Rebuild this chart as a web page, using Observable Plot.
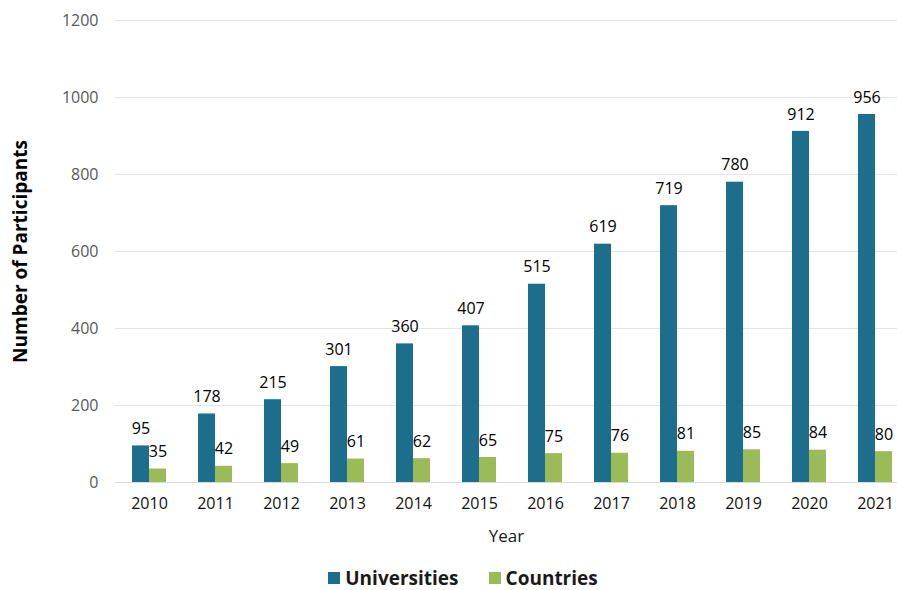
<!DOCTYPE html>
<html>
<head>
<meta charset="utf-8">
<script src="https://cdn.jsdelivr.net/npm/d3@7"></script>
<script src="https://cdn.jsdelivr.net/npm/@observablehq/plot@0.6"></script>
<style>
  html, body { margin: 0; padding: 0; background: #fff; overflow: hidden; }
  body { width: 897px; height: 590px; font-family: "Open Sans", "Noto Sans", sans-serif; }
  #legend { display: flex; justify-content: center; align-items: center; gap: 30px; height: 24px; line-height: 24px;
            font-weight: bold; font-size: 19px; color: #1a1a1a; margin-left: 29px; margin-top: 8px; }
  #legend span.sw { display: inline-block; width: 12px; height: 12px; margin-right: 5px; }
  #legend .item { display: flex; align-items: center; }
</style>
</head>
<body>
<div id="chart"></div>
<div id="legend"></div>
<script>
const years = ["2010","2011","2012","2013","2014","2015","2016","2017","2018","2019","2020","2021"];
const universities = [95,178,215,301,360,407,515,619,719,780,912,956];
const countries = [35,42,49,61,62,65,75,76,81,85,84,80];
const yTicks = [0,200,400,600,800,1000,1200];
const seriesNames = ["Universities","Countries"];
const seriesColors = ["#1c6e8c","#9bbb59"];

const uniData = years.map((y, i) => ({year: y, value: universities[i]}));
const ctyData = years.map((y, i) => ({year: y, value: countries[i]}));

const half = 17;
const chart = Plot.plot({
  width: 897,
  height: 558,
  marginTop: 20,
  marginBottom: 76,
  marginLeft: 115,
  marginRight: 0,
  style: {fontFamily: "'Open Sans', 'Noto Sans', sans-serif", fontSize: "16px", background: "white"},
  x: {domain: years, range: [115, 908], paddingInner: 0.485, paddingOuter: 0.2425, label: null},
  y: {domain: [0, 1200], range: [482, 20], label: null},
  marks: [
    Plot.gridY(yTicks, {stroke: "#e3e3e3", strokeOpacity: 1}),
    Plot.ruleY([0], {stroke: "#d9d9d9"}),
    Plot.barY(uniData, {x: "year", y: "value", fill: seriesColors[0], insetRight: half}),
    Plot.barY(ctyData, {x: "year", y: "value", fill: seriesColors[1], insetLeft: half}),
    Plot.text(uniData, {x: "year", y: "value", text: d => String(d.value), dx: -8.5, dy: -17, fill: "#000", fontSize: 16}),
    Plot.text(ctyData, {x: "year", y: "value", text: d => String(d.value), dx: 8.5, dy: -17, fill: "#000", fontSize: 16}),
    Plot.axisY(yTicks, {tickSize: 0, tickPadding: 17, fill: "#595959", fontSize: 16, tickFormat: d => String(d),
      label: "Number of Participants", labelAnchor: "center", labelOffset: 102, labelArrow: "none"}),
    Plot.axisX({tickSize: 0, tickPadding: 15, fill: "#111", fontSize: 16,
      label: "Year", labelAnchor: "center", labelOffset: 59, labelArrow: "none"})
  ]
});
document.getElementById("chart").appendChild(chart);
chart.querySelectorAll("[aria-label='y-axis label']").forEach(el => {
  el.setAttribute("font-weight", "bold"); el.setAttribute("font-size", "19"); el.setAttribute("fill", "#000");
});
chart.querySelectorAll("[aria-label='x-axis label']").forEach(el => {
  el.setAttribute("font-size", "17"); el.setAttribute("fill", "#1a1a1a");
});

const legend = document.getElementById("legend");
seriesNames.forEach((n, i) => {
  const item = document.createElement("div");
  item.className = "item";
  item.innerHTML = `<span class="sw" style="background:${seriesColors[i]}"></span>${n}`;
  legend.appendChild(item);
});
</script>
</body>
</html>
